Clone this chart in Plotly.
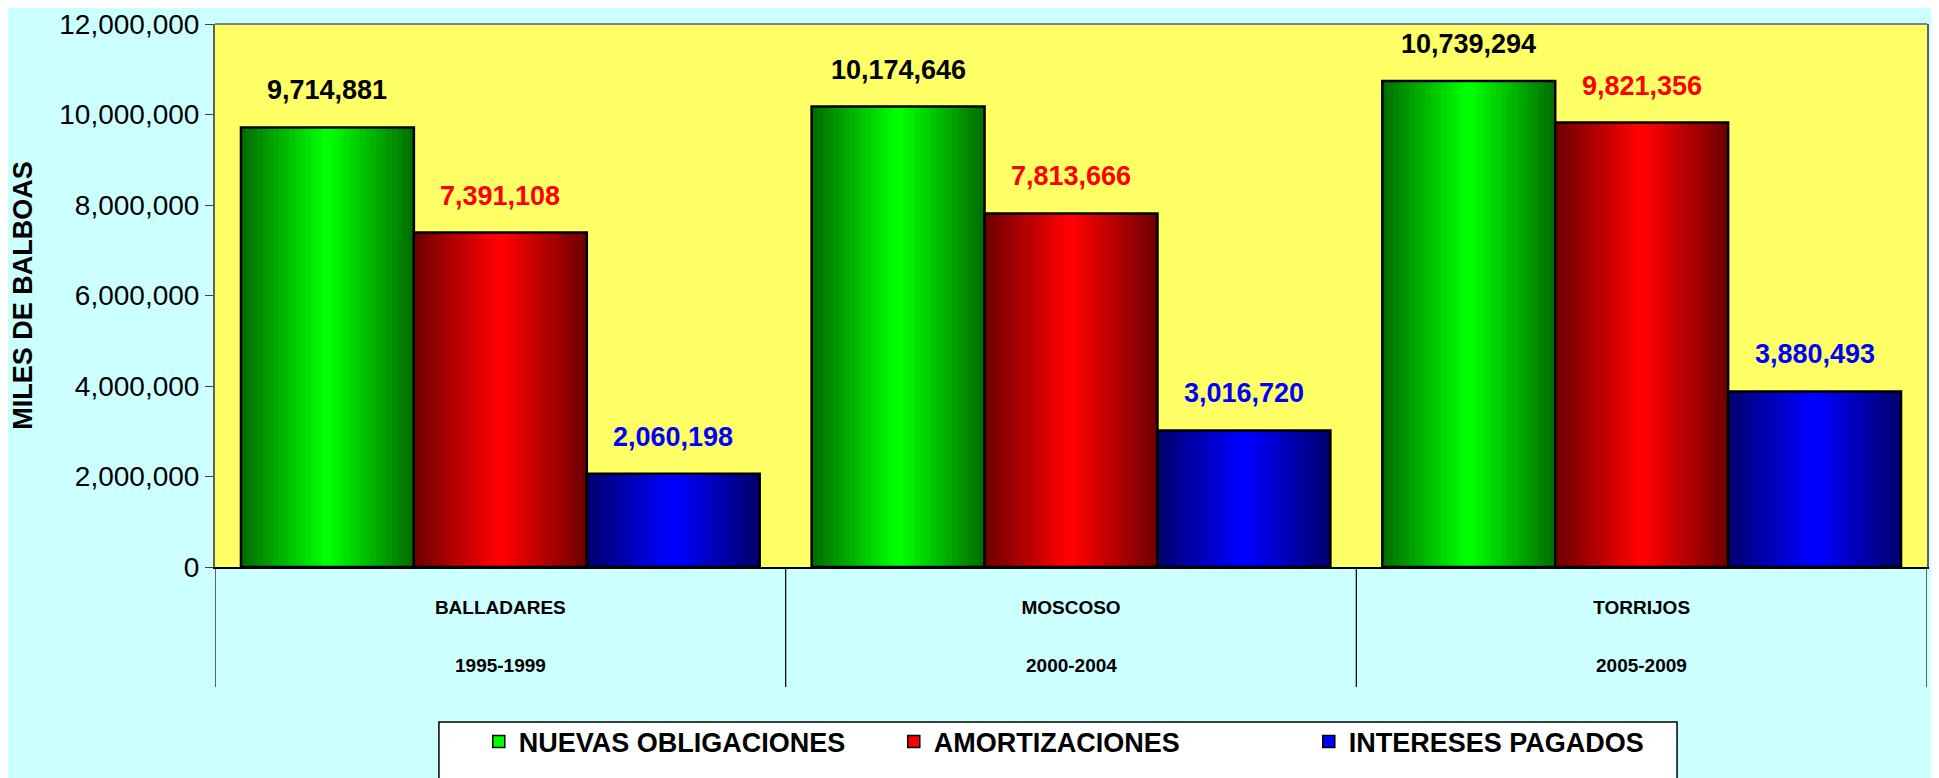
import plotly.graph_objects as go

# data
categories = ["BALLADARES", "MOSCOSO", "TORRIJOS"]
periods = ["1995-1999", "2000-2004", "2005-2009"]
series_names = ["NUEVAS OBLIGACIONES", "AMORTIZACIONES", "INTERESES PAGADOS"]
nuevas = [9714881, 10174646, 10739294]
amortizaciones = [7391108, 7813666, 9821356]
intereses = [2060198, 3016720, 3880493]

FONT = "Liberation Sans, Arial, sans-serif"

# (dark edge, bright centre, label colour)
styles = [
    ((0, 112, 0), (0, 255, 0), "black"),
    ((112, 0, 0), (255, 0, 0), "#FF0000"),
    ((0, 0, 112), (0, 0, 255), "#0000FF"),
]


def mix(c1, c2, t):
    return "rgb(%d,%d,%d)" % tuple(round(a + (b - a) * t) for a, b in zip(c1, c2))


fig = go.Figure()
x_pos = list(range(len(categories)))
bar_w = 0.303
n_layers = 16
annotations = []

for s, (name, vals) in enumerate(zip(series_names, [nuevas, amortizaciones, intereses])):
    dark, bright, label_color = styles[s]
    center = (s - 1) * bar_w
    # nested bars to fake the horizontal gradient of the original
    for k in range(n_layers):
        w = bar_w * (1 - k / n_layers)
        fig.add_trace(go.Bar(x=x_pos, y=vals, width=w, offset=center - w / 2,
                             marker=dict(color=mix(dark, bright, k / (n_layers - 1)), line=dict(width=0)),
                             showlegend=False, hoverinfo='skip'))
    # outline on top
    fig.add_trace(go.Bar(x=x_pos, y=vals, width=bar_w, offset=center - bar_w / 2,
                         marker=dict(color="rgba(0,0,0,0)", line=dict(width=2.5, color="black")),
                         showlegend=False, hoverinfo='skip'))
    for i, v in enumerate(vals):
        annotations.append(dict(x=x_pos[i] + center, y=v, text="<b>%s</b>" % f"{v:,}",
                                showarrow=False, yanchor='bottom', yshift=20,
                                font=dict(family=FONT, size=27, color=label_color)))

# second row of category labels
for i, p in enumerate(periods):
    annotations.append(dict(x=x_pos[i], y=-0.182, yref='paper', text="<b>%s</b>" % p,
                            showarrow=False, yanchor='middle',
                            font=dict(family=FONT, size=19, color='black')))

# legend entries
for s, name in enumerate(series_names):
    fig.add_trace(go.Bar(x=[None], y=[None], name=name,
                         marker=dict(color=mix(*styles[s][:2], 1), line=dict(width=1.5, color="black"))))

shapes = []
for b in [i - 0.5 for i in range(len(categories) + 1)]:
    shapes.append(dict(type='line', xref='x', yref='paper', x0=b, x1=b, y0=0, y1=-0.221,
                       line=dict(color='black', width=1.2)))
shapes.append(dict(type='line', xref='paper', yref='paper', x0=0, x1=1, y0=1, y1=1,
                   line=dict(color='#808080', width=2)))
# legend frame
shapes.append(dict(type='rect', xref='paper', yref='paper', x0=0.1308, x1=0.8540, y0=-0.2855, y1=-0.43,
                   fillcolor='white', line=dict(color='black', width=1.5), layer='below'))

# page body has an 8px margin, so the figure is 8px smaller than the window
fig.update_layout(
    width=1931, height=770,
    margin=dict(l=207, r=12, t=16, b=211),
    paper_bgcolor='#CCFFFF', plot_bgcolor='#FFFF66',
    barmode='overlay',
    annotations=annotations, shapes=shapes,
    legend=dict(orientation='h', xref='container', yref='container', x=0.2438, y=0.0467,
                xanchor='left', yanchor='middle',
                bgcolor='rgba(0,0,0,0)', borderwidth=0,
                entrywidth=370, font=dict(family=FONT, size=27, color='black', weight='bold')),
)
fig.update_xaxes(range=[-0.5, 2.5], tickvals=x_pos, ticktext=categories, automargin=False,
                 tickfont=dict(family=FONT, size=19, color='black', weight='bold'),
                 showgrid=False, zeroline=False, showline=True, linecolor='black', linewidth=2,
                 ticks='', ticklabelstandoff=22)
fig.update_yaxes(range=[0, 12000000], dtick=2000000, tickformat=',d', automargin=False,
                 ticks='outside', ticklen=8, tickcolor='#404040',
                 tickfont=dict(family=FONT, size=28, color='black'),
                 showgrid=False, zeroline=False, showline=True, linecolor='#606060', linewidth=2, mirror=True,
                 title=dict(text='MILES DE BALBOAS', standoff=24,
                            font=dict(family=FONT, size=27, color='black', weight='bold')))

fig.write_html("out.html")
